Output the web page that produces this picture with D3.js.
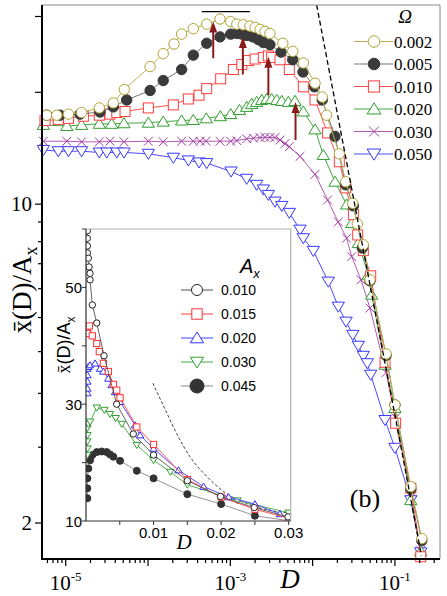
<!DOCTYPE html>
<html>
<head>
<meta charset="utf-8">
<script src="https://cdn.jsdelivr.net/npm/d3@7/dist/d3.min.js"></script>
<style>
  body { margin: 0; background: #fff; }
  svg { display: block; }
</style>
</head>
<body>
<svg id="chart" width="447" height="596"></svg>
<script>
// ---------- main panel: xbar(D)/A_x vs D, one series per Omega ----------
const omegaLabels = ["0.002", "0.005", "0.010", "0.020", "0.030", "0.050"];

const D_om002 = [5.87e-6, 7.78e-6, 1.08e-5, 1.56e-5, 2.56e-5, 3.79e-5, 5.15e-5, 1.06e-4, 1.53e-4, 2.07e-4, 2.56e-4, 3.55e-4, 5.16e-4, 7.50e-4, 1.01e-3, 1.20e-3, 1.44e-3, 1.73e-3, 2.00e-3, 2.30e-3, 2.64e-3, 3.03e-3, 4.34e-3, 5.73e-3, 7.71e-3, 1.07e-2, 1.31e-2, 1.48e-2, 2.11e-2, 2.52e-2, 3.07e-2, 3.49e-2, 4.13e-2, 4.98e-2, 7.80e-2, 0.100, 0.156, 0.212];
const v_om002 = [17.7, 17.7, 17.8, 17.95, 18.4, 18.9, 20.3, 22.95, 24.6, 25.9, 27.3, 28.1, 28.8, 29.6, 29.2, 28.8, 28.7, 28.5, 28.3, 28.0, 27.7, 27.4, 26.0, 24.9, 23.4, 21.0, 19.5, 17.7, 14.4, 12.4, 11.05, 9.9, 8.85, 7.34, 4.94, 3.76, 2.43, 1.84];

const D_om005 = [5.87e-6, 8.53e-6, 1.49e-5, 2.61e-5, 3.79e-5, 5.51e-5, 1.06e-4, 1.53e-4, 2.56e-4, 3.55e-4, 5.16e-4, 7.50e-4, 1.01e-3, 1.20e-3, 1.38e-3, 1.58e-3, 1.87e-3, 2.19e-3, 2.52e-3, 3.03e-3, 4.13e-3, 5.73e-3, 7.64e-3, 1.05e-2, 1.31e-2, 1.87e-2, 2.52e-2, 3.13e-2, 4.02e-2, 4.98e-2, 7.80e-2, 0.100, 0.156, 0.212];
const v_om005 = [17.7, 17.7, 17.8, 18.0, 18.5, 19.2, 20.2, 21.3, 22.6, 24.4, 26.0, 26.9, 27.3, 27.4, 27.3, 27.1, 26.9, 26.5, 26.1, 25.8, 24.8, 23.8, 22.3, 20.6, 19.2, 15.8, 12.2, 10.9, 8.7, 7.3, 4.9, 3.76, 2.4, 1.82];

const D_om010 = [5.60e-6, 8.13e-6, 1.08e-5, 1.64e-5, 2.56e-5, 3.45e-5, 4.17e-5, 5.26e-5, 1.01e-4, 2.03e-4, 3.09e-4, 4.17e-4, 5.16e-4, 7.64e-4, 1.09e-3, 1.38e-3, 1.66e-3, 2.00e-3, 2.52e-3, 2.90e-3, 3.18e-3, 4.02e-3, 5.21e-3, 7.71e-3, 1.07e-2, 1.52e-2, 2.11e-2, 2.52e-2, 3.13e-2, 3.53e-2, 4.13e-2, 5.08e-2, 7.59e-2, 0.102, 0.156, 0.206];
const v_om010 = [17.2, 17.3, 17.4, 17.6, 17.7, 17.8, 17.95, 18.05, 18.4, 18.7, 19.3, 19.7, 20.4, 21.5, 22.6, 23.2, 23.7, 23.9, 24.1, 24.3, 24.1, 23.8, 22.6, 20.6, 19.2, 16.1, 13.8, 12.0, 10.4, 9.33, 8.58, 7.50, 4.72, 3.41, 2.41, 1.67];

const D_om020 = [5.35e-6, 1.03e-5, 1.56e-5, 2.56e-5, 3.62e-5, 5.10e-5, 1.01e-4, 1.53e-4, 2.56e-4, 3.55e-4, 5.10e-4, 7.57e-4, 1.01e-3, 1.29e-3, 1.58e-3, 1.82e-3, 2.09e-3, 2.41e-3, 2.77e-3, 3.18e-3, 3.66e-3, 4.22e-3, 5.07e-3, 6.11e-3, 7.71e-3, 1.07e-2, 1.35e-2, 1.87e-2, 2.59e-2, 2.99e-2, 3.59e-2, 4.75e-2, 5.22e-2, 7.59e-2, 0.100, 0.156, 0.206];
const v_om020 = [16.8, 16.7, 16.8, 16.9, 16.9, 16.95, 17.0, 17.1, 17.2, 17.25, 17.4, 17.6, 17.8, 18.2, 18.5, 18.8, 19.0, 19.2, 19.3, 19.3, 19.2, 19.1, 19.0, 19.1, 18.05, 16.4, 14.3, 12.4, 10.98, 9.94, 8.93, 7.54, 6.78, 4.66, 3.70, 2.26, 1.72];

const D_om030 = [5.35e-6, 1.03e-5, 1.56e-5, 2.56e-5, 3.45e-5, 5.10e-5, 1.01e-4, 1.53e-4, 2.56e-4, 3.55e-4, 4.28e-4, 5.06e-4, 7.50e-4, 1.01e-3, 1.20e-3, 1.58e-3, 1.91e-3, 2.30e-3, 2.64e-3, 3.03e-3, 3.49e-3, 4.02e-3, 4.62e-3, 5.21e-3, 7.03e-3, 1.07e-2, 1.52e-2, 2.05e-2, 2.59e-2, 2.99e-2, 3.87e-2, 4.98e-2, 7.80e-2, 0.102, 0.156, 0.206];
const v_om030 = [15.4, 15.4, 15.35, 15.35, 15.4, 15.35, 15.4, 15.35, 15.4, 15.4, 15.4, 15.4, 15.4, 15.4, 15.45, 15.6, 15.65, 15.7, 15.72, 15.72, 15.7, 15.5, 15.2, 14.96, 14.2, 12.9, 11.25, 10.0, 9.17, 8.31, 7.34, 6.31, 4.47, 3.51, 2.36, 1.73];

const D_om050 = [5.35e-6, 8.13e-6, 1.08e-5, 1.56e-5, 2.56e-5, 3.15e-5, 4.17e-5, 5.10e-5, 1.01e-4, 2.03e-4, 3.09e-4, 4.17e-4, 5.16e-4, 1.02e-3, 1.58e-3, 2.09e-3, 2.52e-3, 2.90e-3, 3.49e-3, 4.22e-3, 5.21e-3, 7.03e-3, 7.71e-3, 1.02e-2, 1.55e-2, 2.05e-2, 2.55e-2, 3.08e-2, 3.59e-2, 4.13e-2, 4.62e-2, 5.08e-2, 7.59e-2, 0.100, 0.156, 0.206];
const v_om050 = [14.7, 14.6, 14.6, 14.6, 14.5, 14.5, 14.5, 14.5, 14.4, 14.1, 13.9, 13.75, 13.7, 13.1, 12.6, 12.2, 11.9, 11.56, 11.15, 10.9, 10.5, 9.6, 9.17, 8.57, 7.27, 6.36, 5.87, 5.47, 5.16, 4.89, 4.70, 4.42, 3.47, 2.99, 2.26, 1.71];

// dashed asymptote and the short flat segment over the top peak
const dashD = [0.0112, 0.0377, 0.110, 0.21];
const dashV = [31.9, 9.44, 3.24, 1.68];
const barD = [4.5e-4, 1.73e-3];
const barV = [30.8, 30.8];

// peak arrows
const arrowD = [6.2e-4, 1.42e-3, 2.90e-3, 6.2e-3];
const arrowFrom = [24.0, 22.0, 19.7, 15.5];
const arrowTo = [29.2, 26.9, 24.2, 19.0];

// axis ticks
const yTickValues = [2, 3, 4, 5, 6, 7, 8, 9, 10, 11, 20, 30];
const yTickLabels = {2: "2", 11: "10"};
const yLongTicks = [2, 11, 20, 30];
const xLabelExp = [-5, -3, -1];

// ---------- inset: linear D, one series per A_x ----------
const axLabels = ["0.010", "0.015", "0.020", "0.030", "0.045"];

const D_a010 = [0.0002, 0.0002, 0.0002, 0.0002, 0.00034, 0.00045, 0.0006, 0.0006, 0.00094, 0.00159, 0.00267, 0.00454, 0.0070, 0.0100, 0.0150, 0.0199, 0.0249, 0.0299];
const v_a010 = [59.7, 58.4, 57.1, 55.9, 55.0, 53.5, 52.4, 51.3, 47.0, 43.9, 38.3, 30.0, 24.9, 21.3, 16.9, 14.2, 12.3, 10.7];

const D_a015 = [0.0002, 0.00049, 0.00094, 0.00159, 0.00197, 0.00257, 0.00331, 0.00405, 0.00455, 0.00504, 0.00752, 0.0100, 0.0150, 0.0200, 0.0250, 0.0300];
const v_a015 = [42.1, 43.4, 41.7, 40.4, 39.0, 37.0, 35.6, 33.4, 32.4, 31.1, 26.1, 23.1, 17.1, 14.1, 12.0, 10.5];

const D_a020 = [0.0002, 0.0002, 0.0002, 0.0002, 0.0002, 0.00034, 0.0006, 0.00134, 0.00208, 0.00257, 0.00331, 0.0038, 0.0043, 0.00504, 0.00727, 0.0080, 0.0100, 0.0137, 0.0174, 0.0211, 0.0250, 0.0287];
const v_a020 = [31.9, 32.7, 33.9, 35.0, 36.1, 36.4, 36.7, 37.0, 36.1, 35.6, 34.4, 33.3, 32.1, 30.4, 26.4, 24.7, 22.4, 18.7, 15.9, 14.1, 12.9, 11.2];

const D_a030 = [0.0002, 0.0002, 0.0002, 0.0002, 0.0002, 0.00034, 0.0006, 0.00159, 0.00272, 0.00356, 0.0044, 0.0053, 0.00752, 0.0100, 0.0125, 0.0150, 0.0224, 0.0300];
const v_a030 = [21.3, 22.4, 23.6, 24.7, 25.9, 26.6, 27.0, 29.4, 29.0, 28.3, 27.6, 26.6, 23.0, 20.4, 18.4, 16.2, 13.5, 11.4];

const D_a045 = [0.0002, 0.0002, 0.0002, 0.00034, 0.0006, 0.00094, 0.00159, 0.00232, 0.00306, 0.00356, 0.00405, 0.00504, 0.00752, 0.0100, 0.0150, 0.0200, 0.0250, 0.0303];
const v_a045 = [13.9, 15.6, 17.3, 19.0, 20.4, 21.3, 21.8, 21.9, 21.8, 21.4, 21.0, 20.3, 18.6, 17.3, 14.6, 12.9, 10.9, 10.0];

const insetDashD = [0.0099, 0.0120, 0.0134, 0.0154, 0.0179, 0.0208, 0.0238, 0.0268, 0.0300];
const insetDashV = [33.6, 28.4, 25.0, 21.0, 17.6, 14.7, 13.0, 11.9, 11.4];

const insetXTicks = [0.005, 0.01, 0.015, 0.02, 0.025, 0.03];
const insetXLabels = [0.01, 0.02, 0.03];
const insetYTicks = [10, 20, 30, 40, 50, 60];
const insetYLabels = [10, 30, 50];

// ---------- drawing ----------
const svg = d3.select("#chart");
const SERIF = "'Liberation Serif', 'Times New Roman', serif";
const SANS = "'Liberation Sans', Arial, sans-serif";

const box = {left: 42, right: 440, top: 5, bottom: 559};
const x = d3.scaleLog().domain([5.15e-6, 0.353]).range([box.left, box.right]);
const y = d3.scaleLog().domain([1.65, 31.9]).range([box.bottom, box.top]);

function marker(g, shape, cx, cy, s, col, fill) {
  let el;
  if (shape === "circle") {
    el = g.append("circle").attr("cx", cx).attr("cy", cy).attr("r", s);
  } else if (shape === "square") {
    el = g.append("rect").attr("x", cx - s).attr("y", cy - s).attr("width", 2 * s).attr("height", 2 * s);
  } else if (shape === "tri") {
    el = g.append("path").attr("d", `M${cx},${cy - s}L${cx + 1.1 * s},${cy + 0.8 * s}L${cx - 1.1 * s},${cy + 0.8 * s}Z`);
  } else if (shape === "tridown") {
    el = g.append("path").attr("d", `M${cx},${cy + s}L${cx + 1.1 * s},${cy - 0.8 * s}L${cx - 1.1 * s},${cy - 0.8 * s}Z`);
  } else {
    const h = s;
    el = g.append("path").attr("d", `M${cx - h},${cy - h}L${cx + h},${cy + h}M${cx - h},${cy + h}L${cx + h},${cy - h}`);
  }
  el.attr("stroke", col).attr("stroke-width", 1).attr("fill", shape === "cross" ? "none" : fill);
}

const mainSeries = [
  {D: D_om002, v: v_om002, shape: "circle", s: 5.2, col: "#aea434", line: "#bab255", fill: "#fff"},
  {D: D_om005, v: v_om005, shape: "circle", s: 5.2, col: "#3a3a3a", line: "#777", fill: "#3a3a3a"},
  {D: D_om010, v: v_om010, shape: "square", s: 5.0, col: "#ff3c3c", line: "#ff5050", fill: "#fff"},
  {D: D_om020, v: v_om020, shape: "tri", s: 5.6, col: "#2f9e2f", line: "#40a840", fill: "#fff"},
  {D: D_om030, v: v_om030, shape: "cross", s: 4.4, col: "#a23ca2", line: "#b35ab3", fill: "none"},
  {D: D_om050, v: v_om050, shape: "tridown", s: 5.6, col: "#3838ff", line: "#4a4aff", fill: "#fff"}
];

const plot = svg.append("g");

// series lines and markers (drawn bottom series first)
mainSeries.slice().reverse().forEach(sr => {
  const pts = sr.D.map((d, i) => [x(d), y(sr.v[i])]);
  plot.append("path").attr("d", d3.line()(pts))
    .attr("fill", "none").attr("stroke", sr.line).attr("stroke-width", 1);
  const mg = plot.append("g");
  pts.forEach(p => marker(mg, sr.shape, p[0], p[1], sr.s, sr.col, sr.fill));
});

// dashed asymptote
plot.append("path")
  .attr("d", d3.line()(dashD.map((d, i) => [x(d), y(dashV[i])])))
  .attr("fill", "none").attr("stroke", "#000").attr("stroke-width", 1.3)
  .attr("stroke-dasharray", "5,3");

// flat bar over the top peak
plot.append("path")
  .attr("d", d3.line()(barD.map((d, i) => [x(d), y(barV[i])])))
  .attr("stroke", "#000").attr("stroke-width", 1.3);

// arrows
arrowD.forEach((d, i) => {
  const ax = x(d), y0 = y(arrowFrom[i]), y1 = y(arrowTo[i]);
  plot.append("line").attr("x1", ax).attr("x2", ax).attr("y1", y0).attr("y2", y1 + 9)
    .attr("stroke", "#8b1a1a").attr("stroke-width", 2);
  plot.append("path").attr("d", `M${ax},${y1}L${ax + 4},${y1 + 11}L${ax - 4},${y1 + 11}Z`)
    .attr("fill", "#8b1a1a");
});

// frame
svg.append("line").attr("x1", box.left).attr("x2", box.right).attr("y1", box.top).attr("y2", box.top)
  .attr("stroke", "#888").attr("stroke-width", 1);
svg.append("line").attr("x1", box.right).attr("x2", box.right).attr("y1", box.top).attr("y2", box.bottom)
  .attr("stroke", "#888").attr("stroke-width", 1);

// x axis
const xAxisG = svg.append("g");
xAxisG.append("line").attr("x1", box.left - 1).attr("x2", box.right).attr("y1", box.bottom).attr("y2", box.bottom)
  .attr("stroke", "#000").attr("stroke-width", 2);
x.ticks().forEach(t => {
  const major = Math.abs(Math.log10(t) - Math.round(Math.log10(t))) < 1e-6;
  xAxisG.append("line").attr("x1", x(t)).attr("x2", x(t)).attr("y1", box.bottom)
    .attr("y2", box.bottom + (major ? 7 : 4)).attr("stroke", "#000").attr("stroke-width", 1.2);
});
xLabelExp.forEach(e => {
  const t = xAxisG.append("text").attr("x", x(Math.pow(10, e))).attr("y", 590)
    .attr("text-anchor", "middle").attr("font-family", SERIF).attr("font-size", 21);
  t.append("tspan").text("10");
  t.append("tspan").attr("dy", -9).attr("font-size", 13).text(String(e));
});
svg.append("text").attr("x", 290).attr("y", 588).attr("text-anchor", "middle")
  .attr("font-family", SERIF).attr("font-style", "italic").attr("font-size", 27).text("D");

// y axis
const yAxisG = svg.append("g");
yAxisG.append("line").attr("x1", box.left).attr("x2", box.left).attr("y1", box.top).attr("y2", box.bottom + 1)
  .attr("stroke", "#000").attr("stroke-width", 2);
yTickValues.forEach(t => {
  const long = yLongTicks.includes(t);
  yAxisG.append("line").attr("x1", box.left).attr("x2", box.left - (long ? 7 : 4))
    .attr("y1", y(t)).attr("y2", y(t)).attr("stroke", "#000").attr("stroke-width", 1.2);
  if (yTickLabels[t]) {
    yAxisG.append("text").attr("x", 32).attr("y", y(t) + 7).attr("text-anchor", "end")
      .attr("font-family", SERIF).attr("font-size", 21).text(yTickLabels[t]);
  }
});
const yTitle = svg.append("text").attr("transform", "translate(31,290) rotate(-90)")
  .attr("text-anchor", "middle").attr("font-family", SERIF).attr("font-size", 27);
yTitle.append("tspan").text("x\u0304(D)/A");
yTitle.append("tspan").attr("dy", 6).attr("font-size", 18).text("x");

// legend
const leg = svg.append("g");
leg.append("text").attr("x", 405).attr("y", 23).attr("text-anchor", "middle")
  .attr("font-family", SERIF).attr("font-style", "italic").attr("font-size", 19).text("\u03A9");
mainSeries.forEach((sr, i) => {
  const ly = 41.5 + i * 22.5;
  leg.append("line").attr("x1", 354).attr("x2", 393).attr("y1", ly).attr("y2", ly)
    .attr("stroke", sr.line).attr("stroke-width", 1.2);
  marker(leg, sr.shape, 374, ly, sr.s + 0.6, sr.col, sr.fill === "none" ? "none" : sr.fill);
  leg.append("text").attr("x", 394).attr("y", ly + 6).attr("font-family", SERIF)
    .attr("font-size", 17).text(omegaLabels[i]);
});

svg.append("text").attr("x", 365).attr("y", 507).attr("text-anchor", "middle")
  .attr("font-family", SERIF).attr("font-size", 26).text("(b)");

// ---------- inset ----------
const ib = {left: 86, right: 290.7, top: 229, bottom: 521};
const ix = d3.scaleLinear().domain([0, 0.0303]).range([ib.left, ib.right]);
const iy = d3.scaleLinear().domain([10, 60]).range([ib.bottom, ib.top]);

const inset = svg.append("g");
inset.append("rect").attr("x", ib.left).attr("y", ib.top).attr("width", ib.right - ib.left)
  .attr("height", ib.bottom - ib.top).attr("fill", "#fff");
svg.append("clipPath").attr("id", "insetClip").append("rect")
  .attr("x", ib.left).attr("y", ib.top).attr("width", ib.right - ib.left).attr("height", ib.bottom - ib.top);

const insetSeries = [
  {D: D_a010, v: v_a010, shape: "circle", s: 3.2, col: "#222", line: "#555", fill: "#fff", ls: 5.5},
  {D: D_a015, v: v_a015, shape: "square", s: 3.1, col: "#ff3030", line: "#ff4040", fill: "#fff", ls: 5.2},
  {D: D_a020, v: v_a020, shape: "tri", s: 3.4, col: "#3030ff", line: "#4040ff", fill: "#fff", ls: 6},
  {D: D_a030, v: v_a030, shape: "tridown", s: 3.4, col: "#2f9e2f", line: "#40a840", fill: "#fff", ls: 6},
  {D: D_a045, v: v_a045, shape: "circle", s: 3.5, col: "#333", line: "#888", fill: "#333", ls: 7}
];

const inner = inset.append("g").attr("clip-path", "url(#insetClip)");
inner.append("path")
  .attr("d", d3.line().curve(d3.curveMonotoneX)(insetDashD.map((d, i) => [ix(d), iy(insetDashV[i])])))
  .attr("fill", "none").attr("stroke", "#444").attr("stroke-width", 1).attr("stroke-dasharray", "3,2");
insetSeries.slice().reverse().forEach(sr => {
  const pts = sr.D.map((d, i) => [ix(d), iy(sr.v[i])]);
  inner.append("path").attr("d", d3.line()(pts))
    .attr("fill", "none").attr("stroke", sr.line).attr("stroke-width", 0.9);
  const mg = inner.append("g");
  pts.forEach(p => marker(mg, sr.shape, p[0], p[1], sr.s, sr.col, sr.fill));
});

// inset frame and axes
inset.append("path").attr("d", `M${ib.left},${ib.top}H${ib.right}V${ib.bottom}`)
  .attr("fill", "none").attr("stroke", "#b0b0b0").attr("stroke-width", 1.2);
inset.append("path").attr("d", `M${ib.left},${ib.top}V${ib.bottom}H${ib.right}`)
  .attr("fill", "none").attr("stroke", "#333").attr("stroke-width", 1.2);
insetXTicks.forEach(t => {
  inset.append("line").attr("x1", ix(t)).attr("x2", ix(t)).attr("y1", ib.bottom).attr("y2", ib.bottom + 4)
    .attr("stroke", "#333").attr("stroke-width", 1);
});
insetXLabels.forEach(t => {
  inset.append("text").attr("x", ix(t)).attr("y", 538).attr("text-anchor", "middle")
    .attr("font-family", SANS).attr("font-size", 15).text(d3.format(".2f")(t));
});
inset.append("text").attr("x", 184).attr("y", 549).attr("text-anchor", "middle")
  .attr("font-family", SERIF).attr("font-style", "italic").attr("font-size", 21).text("D");
insetYTicks.forEach(t => {
  inset.append("line").attr("x1", ib.left).attr("x2", ib.left - 4).attr("y1", iy(t)).attr("y2", iy(t))
    .attr("stroke", "#333").attr("stroke-width", 1);
});
insetYLabels.forEach(t => {
  inset.append("text").attr("x", 82).attr("y", iy(t) + 5.5).attr("text-anchor", "end")
    .attr("font-family", SANS).attr("font-size", 15).text(t);
});
const iyTitle = inset.append("text").attr("transform", "translate(70,345) rotate(-90)")
  .attr("text-anchor", "middle").attr("font-family", SANS).attr("font-size", 18);
iyTitle.append("tspan").attr("font-family", SERIF).text("x\u0304");
iyTitle.append("tspan").text("(D)/A");
iyTitle.append("tspan").attr("dy", 5).attr("font-size", 12).text("x");

// inset legend
const il = inset.append("g");
const ilt = il.append("text").attr("x", 240).attr("y", 273).attr("font-family", SANS)
  .attr("font-style", "italic").attr("font-size", 20);
ilt.append("tspan").text("A");
ilt.append("tspan").attr("dy", 5).attr("font-size", 13).text("x");
insetSeries.forEach((sr, i) => {
  const ly = 290 + i * 24;
  il.append("line").attr("x1", 181).attr("x2", 213).attr("y1", ly).attr("y2", ly)
    .attr("stroke", sr.line).attr("stroke-width", 1);
  marker(il, sr.shape, 197, ly, sr.ls, sr.col, sr.fill);
  il.append("text").attr("x", 221).attr("y", ly + 5).attr("font-family", SANS)
    .attr("font-size", 14).text(axLabels[i]);
});
</script>
</body>
</html>
